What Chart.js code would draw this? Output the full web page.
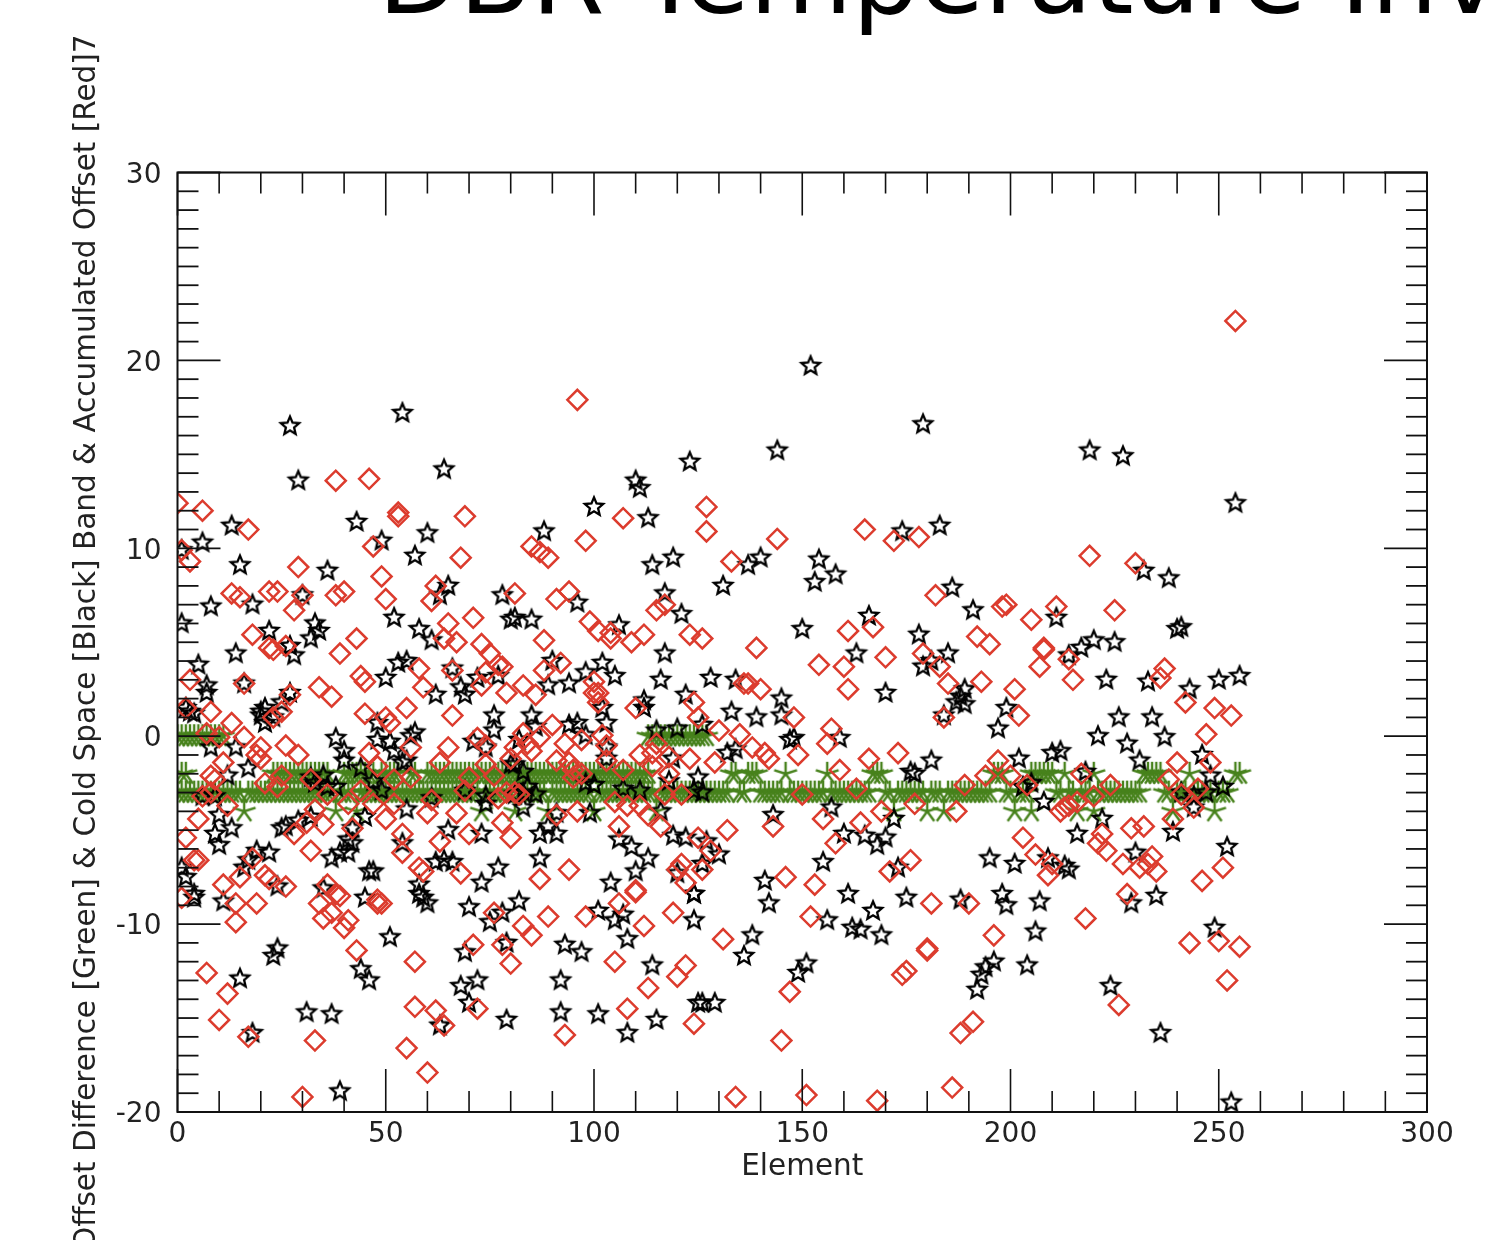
<!DOCTYPE html>
<html>
<head>
<meta charset="utf-8">
<title>DBR Temperature</title>
<style>html,body{margin:0;padding:0;background:#fff}canvas{display:block}</style>
<script src="https://cdn.jsdelivr.net/npm/chart.js@4"></script>
</head>
<body>
<canvas id="c" width="1499" height="1240"></canvas>
<script>
const titleText = "DBR Temperature Inv";
const xAxisTitle = "Element";
const yAxisTitle = "Offset Difference [Green] & Cold Space [Black] Band & Accumulated Offset [Red]7";
const xMajorTicks = [0,50,100,150,200,250,300];
const yMajorTicks = [-20,-10,0,10,20,30];

// green asterisks: elements sitting on each offset level
const greenLevel0 = [0,1,2,3,4,5,6,7,8,9,10,11,113,114,115,116,117,118,119,120,121,122,123,124,125,126,127];
const greenLevelM2 = [1,2,23,24,25,26,27,28,29,30,31,32,33,34,35,36,40,41,42,43,44,45,46,47,49,50,51,52,53,56,57,60,61,62,63,64,65,66,67,68,69,70,71,72,73,74,75,76,77,78,79,80,81,82,83,84,85,86,87,88,89,90,91,92,93,94,95,96,97,98,99,100,101,102,103,104,105,106,107,108,109,110,111,112,113,133,134,137,138,139,146,156,167,168,169,196,197,198,205,206,207,208,209,210,213,220,232,233,234,235,236,243,254,255];
const greenLevelM3 = [0,1,2,3,4,5,6,7,8,9,10,11,12,13,14,15,17,18,19,20,21,22,23,24,25,26,27,28,29,30,31,32,33,34,35,36,37,39,40,41,42,44,45,46,47,48,49,50,51,52,53,54,55,56,57,58,59,60,61,62,63,64,65,66,67,68,69,70,71,72,74,75,76,77,78,79,80,82,83,84,85,86,87,88,90,91,92,93,94,95,96,97,98,99,101,102,103,104,105,106,107,108,109,110,111,112,113,114,116,117,118,119,120,121,122,123,124,125,126,127,128,129,130,131,132,135,136,140,141,142,143,144,145,147,148,149,150,151,152,153,154,155,157,158,159,160,161,162,163,164,165,166,170,171,173,174,175,176,177,178,179,181,182,183,185,186,187,188,189,190,191,192,193,194,195,199,200,202,203,204,211,212,214,215,217,218,219,221,222,223,224,225,226,227,228,229,230,231,237,238,240,241,242,244,245,246,247,248,250,251,252];
const greenLevelM4 = [16,38,43,73,81,89,100,115,172,180,184,201,205,216,220,239,249];

// black stars: [element, value]
const starPoints = [[152,19.7],[54,17.2],[27,16.5],[179,16.6],[144,15.2],[219,15.2],[227,14.9],[123,14.6],[64,14.2],[29,13.6],[110,13.6],[111,13.2],[254,12.4],[100,12.2],[113,11.6],[13,11.2],[43,11.4],[183,11.2],[174,10.9],[88,10.9],[60,10.8],[49,10.4],[6,10.3],[1,9.9],[57,9.6],[119,9.5],[114,9.1],[15,9.1],[140,9.5],[137,9.1],[154,9.4],[158,8.6],[153,8.2],[36,8.8],[232,8.8],[238,8.4],[131,8.0],[65,8.0],[186,7.9],[30,7.5],[117,7.6],[78,7.5],[63,7.5],[8,6.9],[18,7.0],[96,7.1],[191,6.7],[52,6.3],[80,6.2],[81,6.3],[85,6.2],[166,6.4],[121,6.5],[211,6.3],[1,6.0],[33,6.0],[34,5.6],[106,5.9],[58,5.7],[150,5.7],[22,5.6],[240,5.7],[241,5.8],[32,5.2],[178,5.4],[225,5.0],[220,5.1],[61,5.1],[217,4.7],[214,4.3],[27,4.8],[28,4.3],[185,4.4],[117,4.4],[163,4.4],[102,3.9],[55,4.0],[53,3.9],[181,4.0],[179,3.7],[90,4.0],[5,3.8],[98,3.4],[66,3.6],[255,3.2],[128,3.1],[223,3.0],[250,3.0],[50,3.1],[72,3.1],[77,3.2],[233,2.9],[134,3.0],[105,3.2],[116,3.0],[94,2.8],[16,2.8],[7,2.7],[89,2.7],[68,2.6],[189,2.5],[7,2.3],[170,2.3],[243,2.5],[145,2.0],[27,2.3],[122,2.2],[62,2.2],[69,2.2],[188,2.1],[187,1.8],[189,1.7],[112,1.9],[112,1.5],[199,1.5],[145,1.1],[3,1.3],[20,1.3],[20,1.1],[21,1.5],[21,0.7],[23,1.0],[133,1.3],[234,1.0],[226,1.0],[139,1.0],[76,1.1],[85,1.1],
[14,4.4],[2,1.5],[4,1.2],[25,1.8],[38,-0.1],[40,-0.8],[40,-1.3],[8,-0.6],[14,-0.6],[17,-1.7],[12,-2.1],[48,0.7],[48,-0.2],[51,-0.3],[52,-0.8],[54,-1.4],[55,-1.3],[57,0.2],[56,0],[76,0.3],[74,-0.6],[71,-0.3],[81,-1.5],[44,-1.7],[35,-2.1],[32,-2.2],[33,-2.5],[36,-2.7],[38,-2.7],[47,-2.4],[49,-2.9],[69,-2.9],[74,-3.2],[74,-3.6],[61,-3.3],[81,-3.1],[6,-3.2],[9,-3.2],[55,-3.9],[45,-4.3],[42,-4.9],[41,-5.5],[42,-5.7],[10,-4.2],[9,-5.2],[13,-4.9],[10,-5.8],[65,-5.0],[73,-5.2],[54,-5.7],[25,-4.9],[26,-4.8],[29,-4.5],[32,-4.3],[22,-6.2],[19,-6.1],[17,-6.6],[16,-7.0],[37,-6.5],[39,-6.2],[41,-6.2],[46,-7.2],[47,-7.2],[58,-7.9],[58,-8.4],[62,-6.7],[64,-6.6],[66,-6.7],[77,-7.0],[73,-7.8],[2,-7.5],[1,-7.0],[24,-8.0],[4,-8.4],[35,-8.1],
[4,-8.6],[11,-8.8],[45,-8.6],[60,-8.9],[59,-8.6],[70,-9.1],[82,-8.8],[78,-9.4],[75,-9.9],[101,-9.3],[107,-9.5],[105,-9.8],[108,-10.8],[124,-9.8],[124,-8.4],[51,-10.7],[24,-11.3],[23,-11.7],[15,-12.9],[44,-12.4],[46,-13.0],[69,-11.5],[79,-11.0],[93,-11.1],[97,-11.5],[114,-12.2],[92,-13.0],[72,-13.0],[68,-13.3],[70,-14.2],[31,-14.7],[37,-14.8],[92,-14.7],[101,-14.8],[125,-14.2],[115,-15.1],[63,-15.4],[79,-15.1],[18,-15.8],[108,-15.8],[39,-18.9],
[142,-8.9],[138,-10.6],[136,-11.7],[129,-14.2],[126,-14.2],[156,-9.8],[161,-8.4],[167,-9.3],[162,-10.2],[164,-10.3],[169,-10.6],[175,-8.6],[188,-8.7],[199,-9.0],[198,-8.4],[207,-8.8],[229,-8.9],[235,-8.5],[249,-10.2],[206,-10.4],[204,-12.2],[196,-12.0],[194,-12.3],[193,-12.7],[192,-13.5],[151,-12.1],[149,-12.6],[224,-13.3],[236,-15.8],[253,-19.5],
[103,0.7],[102,1.5],[94,0.6],[96,0.7],[98,0.05],[86,0.5],[82,-0.2],[103,-0.6],[103,-1.2],[115,0.3],[120,0.4],[126,0.6],[119,-1.2],[132,-0.9],[134,-0.7],[147,-0.2],[148,-0.1],[159,-0.1],[125,-2.2],[118,-2.4],[100,-2.6],[98,-2.5],[107,-2.8],[111,-2.9],[124,-2.9],[126,-3.0],[83,-1.9],[80,-1.5],[84,-2.7],[83,-3.0],[86,-3.1],[83,-3.8],[91,-4.1],[99,-4.1],[116,-4.0],[143,-4.2],[157,-3.8],[160,-5.2],[119,-5.3],[122,-5.4],[127,-5.6],[130,-6.3],[126,-6.8],[120,-7.3],[106,-5.5],[109,-5.9],[113,-6.5],[110,-7.2],[104,-7.8],[87,-6.5],[87,-5.2],[89,-4.8],[91,-5.2],[155,-6.7],[141,-7.7],[124,-8.4],
[184,1.1],[197,0.4],[202,-1.2],[210,-0.9],[212,-0.8],[181,-1.3],[176,-1.9],[177,-2.0],[218,-1.9],[203,-2.7],[205,-2.5],[208,-3.5],[172,-4.4],[222,-4.4],[216,-5.2],[239,-5.1],[165,-5.3],[168,-5.8],[170,-5.4],[173,-7.0],[195,-6.5],[201,-6.8],[209,-6.5],[213,-6.9],[214,-7.1],[230,-6.2],[252,-5.9],[221,0.0],[228,-0.4],[231,-1.3],[237,-0.05],[246,-1.0],[248,-2.1],[251,-2.7],[241,-3.0],[244,-3.2],[247,-3.0],[244,-3.8]];

// red diamonds: [element, value]
const diamondPoints = [[254,22.1],[96,17.9],[38,13.6],[46,13.7],[0,12.4],[6,12.0],[53,11.9],[53,11.7],[69,11.7],[127,12.2],[127,10.9],[107,11.6],[17,11.0],[165,11.0],[172,10.4],[178,10.6],[144,10.5],[98,10.4],[47,10.1],[85,10.1],[87,9.8],[89,9.5],[1,9.9],[3,9.3],[68,9.5],[219,9.6],[133,9.3],[230,9.2],[29,9.0],[182,7.5],[198,6.9],[199,7.0],[205,6.2],[211,6.9],[225,6.7],[161,5.6],[167,5.8],[126,5.2],[139,4.7],[192,5.3],[195,4.9],[208,4.7],[49,8.5],[50,7.3],[13,7.6],[15,7.4],[22,7.7],[24,7.7],[30,7.5],[38,7.5],[40,7.7],[62,8.0],[61,7.2],[81,7.6],[91,7.3],[94,7.7],[28,6.7],[115,6.7],[117,7.0],[18,5.4],[65,6.0],[71,6.3],[43,5.2],[26,4.8],[22,4.7],[99,6.1],[101,5.6],[104,5.5],[104,5.2],[109,5.0],[112,5.4],[123,5.4],[88,5.1],[64,5.2],[67,5.0],[73,4.9],
[23,4.6],[39,4.4],[75,4.4],[77,3.8],[74,3.4],[73,2.7],[79,2.3],[58,3.6],[66,3.5],[59,2.6],[44,3.2],[45,2.9],[3,3.0],[16,2.8],[34,2.6],[37,2.1],[27,2.2],[8,1.3],[2,1.5],[66,1.1],[55,1.5],[50,1.0],[51,0.7],[45,1.2],[25,1.3],[23,1.0],[13,0.7],[7,0.15],[10,-0.05],[16,-0.05],[26,-0.5],[29,-1.0],[20,-0.6],[19,-1.0],[20,-1.2],[46,-0.9],[48,-1.6],[56,-0.6],[65,-0.6],[63,-1.4],[72,-0.1],[74,-0.5],[74,-1.5],[81,-0.6],[11,-1.4],[8,-2.1],[9,-2.3],[25,-2.1],[21,-2.5],[24,-2.7],[32,-2.3],[36,-3.1],[44,-2.9],[41,-3.6],[52,-2.3],[56,-2.2],[47,-3.6],[52,-3.6],[70,-2.2],[76,-2.1],[69,-2.9],[77,-3.3],[81,-3.0],[6,-3.2],[8,-3.0],[12,-3.7],[5,-4.4],[2,-5.4],[33,-3.9],[31,-4.6],[35,-4.7],[28,-5.2],[32,-6.1],[42,-4.9],[61,-3.4],[60,-4.1],[67,-4.1],[50,-4.4],[54,-5.2],[54,-6.2],[63,-5.6],[70,-5.2],[78,-4.6],[80,-5.4],[4,-6.6],[5,-6.6],[18,-6.5],[11,-7.9],[15,-7.5],[21,-7.4],[22,-7.6],[26,-8.0],[58,-7.0],[59,-7.2],[36,-7.9],[38,-8.4],[68,-7.3],[48,-8.7],
[1,-8.6],[14,-8.9],[19,-8.9],[14,-9.9],[34,-8.9],[37,-9.4],[35,-9.7],[41,-9.8],[40,-10.2],[43,-11.4],[48,-8.9],[49,-8.9],[39,-8.5],[57,-12.0],[7,-12.6],[12,-13.7],[10,-15.1],[17,-16.0],[33,-16.2],[57,-14.4],[62,-14.6],[64,-15.4],[55,-16.6],[60,-17.9],[30,-19.2],[76,-9.4],[83,-10.1],[85,-10.6],[89,-9.6],[98,-9.6],[71,-11.1],[78,-11.1],[80,-12.1],[72,-14.5],[106,-8.9],[110,-8.3],[119,-9.4],[112,-10.1],[105,-12.0],[122,-12.2],[120,-12.8],[113,-13.4],[108,-14.5],[93,-15.9],[124,-15.3],
[131,-10.8],[152,-9.6],[147,-13.6],[145,-16.2],[181,-8.9],[190,-8.9],[196,-10.6],[180,-11.3],[180,-11.4],[175,-12.5],[174,-12.7],[218,-9.7],[228,-8.4],[243,-11.0],[250,-10.9],[255,-11.2],[252,-13.0],[226,-14.3],[191,-15.2],[188,-15.8],[186,-18.7],[168,-19.4],[151,-19.1],[134,-19.2],
[88,3.5],[92,3.9],[83,2.7],[86,2.2],[78,3.7],[100,2.9],[101,2.3],[100,2.3],[101,1.8],[110,1.5],[124,1.8],[125,1.0],[90,0.6],[87,-0.05],[84,-0.4],[83,0.15],[85,-0.8],[80,-1.2],[93,-0.4],[91,-1.3],[97,-0.2],[102,0.05],[103,-0.5],[103,-1.3],[94,-1.4],[95,-1.8],[97,-2.0],[95,-2.2],[107,-1.8],[111,-1.0],[114,-0.9],[114,-1.6],[115,-0.4],[118,-1.1],[123,-1.2],[129,-1.4],[118,-2.0],[117,-3.1],[121,-3.1],[105,-3.5],[108,-3.7],[111,-3.7],[113,-4.2],[116,-4.8],[106,-4.8],[96,-4.0],[91,-4.2],[79,-3.0],[82,-3.1],[132,-5.0],[143,-4.8],[150,-3.1],[135,0.1],[138,-0.6],[141,-0.9],[142,-1.2],[149,-1.0],[159,-1.8],[156,-0.4],[157,0.4],[154,3.8],[160,3.7],[137,2.8],[140,2.5],[136,2.8],[148,1.0],[161,2.5],[130,0.3],[155,-4.4],[158,-5.7],[146,-7.5],[153,-7.9],[122,-7.8],[120,-7.1],[121,-6.8],[128,-6.1],[126,-7.1],[125,-5.4],[94,-7.1],[87,-7.6],[110,-8.2],
[170,4.2],[179,4.4],[183,3.7],[185,2.8],[193,2.9],[208,4.6],[207,3.7],[214,4.1],[215,3.0],[201,2.5],[202,1.1],[184,1.0],[237,3.6],[236,3.1],[242,1.8],[249,1.5],[253,1.1],[247,0.1],[166,-1.2],[173,-0.9],[197,-1.3],[240,-1.4],[248,-1.4],[194,-2.1],[200,-2.1],[189,-2.6],[163,-2.8],[204,-2.6],[217,-2.0],[224,-2.6],[238,-2.3],[245,-2.8],[241,-3.1],[244,-3.8],[220,-3.2],[216,-3.5],[177,-3.6],[169,-4.0],[187,-4.0],[212,-4.0],[213,-3.8],[214,-3.7],[239,-4.4],[164,-4.6],[203,-5.4],[206,-6.3],[210,-6.8],[209,-7.4],[222,-5.2],[221,-5.7],[223,-6.1],[229,-4.9],[232,-4.8],[227,-6.8],[231,-7.0],[234,-6.4],[233,-6.8],[235,-7.2],[251,-7.0],[246,-7.7],[176,-6.6],[171,-7.2]];

const levelPoints = (elements, value) => elements.map(e => ({x: e, y: value}));
const greenData = [
  ...levelPoints(greenLevel0, 0),
  ...levelPoints(greenLevelM2, -2),
  ...levelPoints(greenLevelM3, -3),
  ...levelPoints(greenLevelM4, -4)
];
const pairsToPoints = pairs => pairs.map(p => ({x: p[0], y: p[1]}));

function makeMarker(size, draw) {
  const cv = document.createElement('canvas');
  cv.width = size; cv.height = size;
  draw(cv.getContext('2d'), size / 2);
  return cv;
}
const starMarker = makeMarker(30, (g, m) => {
  const R = 9.6, r = 4.3;
  g.beginPath();
  for (let i = 0; i < 10; i++) {
    const a = -Math.PI / 2 + i * Math.PI / 5, q = i % 2 ? r : R;
    const px = m + q * Math.cos(a), py = m + q * Math.sin(a);
    i ? g.lineTo(px, py) : g.moveTo(px, py);
  }
  g.closePath();
  g.lineWidth = 2.3; g.strokeStyle = '#000'; g.lineJoin = 'miter'; g.stroke();
});
const asteriskMarker = makeMarker(30, (g, m) => {
  const R = 12;
  g.beginPath();
  for (let i = 0; i < 5; i++) {
    const a = -Math.PI / 2 + i * 2 * Math.PI / 5;
    g.moveTo(m, m);
    g.lineTo(m + R * Math.cos(a), m + R * Math.sin(a));
  }
  g.lineWidth = 2.4; g.strokeStyle = '#47821c'; g.stroke();
});

const INK = '#111';
const axisFurniture = {
  id: 'axisFurniture',
  afterDraw(chart) {
    const {ctx, chartArea: a, scales: {x, y}} = chart;
    ctx.save();
    ctx.strokeStyle = INK;
    ctx.lineWidth = 2;
    ctx.strokeRect(a.left, a.top, a.right - a.left, a.bottom - a.top);
    const seg = (x1, y1, x2, y2) => { ctx.beginPath(); ctx.moveTo(x1, y1); ctx.lineTo(x2, y2); ctx.stroke(); };
    ctx.lineWidth = 1.6;
    for (let v = 0; v <= 300; v += 10) {
      const len = xMajorTicks.includes(v) ? 43 : 21, px = x.getPixelForValue(v);
      seg(px, a.bottom, px, a.bottom - len);
      seg(px, a.top, px, a.top + len);
    }
    ctx.lineWidth = 1.8;
    for (let v = -20; v <= 30; v += 1) {
      const len = yMajorTicks.includes(v) ? 43 : 21, py = y.getPixelForValue(v);
      seg(a.left, py, a.left + len, py);
      seg(a.right, py, a.right - len, py);
    }
    ctx.fillStyle = '#000';
    ctx.font = '105.5px "DejaVu Sans"';
    ctx.textAlign = 'left';
    ctx.textBaseline = 'alphabetic';
    ctx.fillText(titleText, 377.7, 12.5);
    ctx.restore();
  }
};

const tickFont = {family: '"DejaVu Sans"', size: 28};
const titleFont = {family: '"DejaVu Sans"', size: 29.5};
new Chart(document.getElementById('c'), {
  type: 'scatter',
  data: {datasets: [
    {label: 'Accumulated Offset', data: pairsToPoints(diamondPoints), pointStyle: 'rectRot', pointRadius: 10, pointHoverRadius: 10, borderColor: '#dc3c2e', backgroundColor: 'rgba(0,0,0,0)', pointBorderWidth: 2.5},
    {label: 'Cold Space Band', data: pairsToPoints(starPoints), pointStyle: starMarker, pointRadius: 10},
    {label: 'Offset Difference', data: greenData, pointStyle: asteriskMarker, pointRadius: 10}
  ]},
  plugins: [axisFurniture],
  options: {
    responsive: false,
    animation: false,
    layout: {padding: {left: 0, right: 72, top: 172.5, bottom: 0}},
    plugins: {legend: {display: false}, tooltip: {enabled: false}, title: {display: false}},
    scales: {
      x: {
        type: 'linear', min: 0, max: 300,
        afterBuildTicks(s) { s.ticks = xMajorTicks.map(v => ({value: v})); },
        afterFit(s) { s.height = 128; },
        grid: {display: false},
        border: {display: false},
        ticks: {font: tickFont, color: '#222', padding: -2, maxRotation: 0, autoSkip: false},
        title: {display: true, text: xAxisTitle, font: titleFont, color: '#222', padding: {top: 0, bottom: 55}}
      },
      y: {
        type: 'linear', min: -20, max: 30,
        afterBuildTicks(s) { s.ticks = yMajorTicks.map(v => ({value: v})); },
        afterFit(s) { s.width = 177.5; },
        grid: {display: false},
        border: {display: false},
        ticks: {font: tickFont, color: '#222', padding: 8, labelOffset: 3, autoSkip: false},
        title: {display: true, text: yAxisTitle, font: titleFont, color: '#222', padding: {top: 70, bottom: 0}}
      }
    }
  }
});
</script>
</body>
</html>
